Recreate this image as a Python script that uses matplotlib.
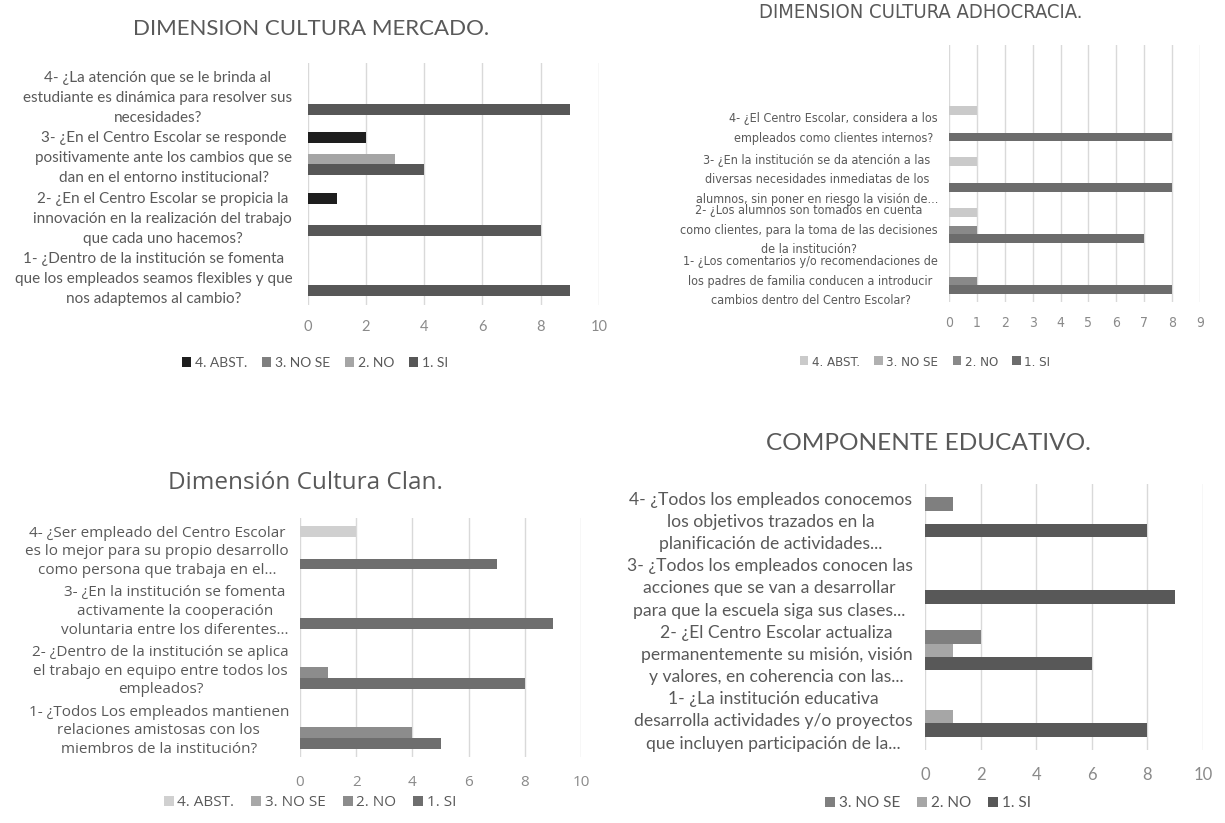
import numpy as np
import matplotlib
matplotlib.use("Agg")
import matplotlib.pyplot as plt
from matplotlib.patches import Patch
from matplotlib import font_manager as fm

# ---------------- DATA ----------------
legend_4 = ["4. ABST.", "3. NO SE", "2. NO", "1. SI"]
legend_3 = ["3. NO SE", "2. NO", "1. SI"]

mercado_title = "DIMENSION CULTURA MERCADO."
mercado_cats = [
    "1- ¿Dentro de la institución se fomenta\nque los empleados seamos flexibles y que\nnos adaptemos al cambio?",
    "2- ¿En el Centro Escolar se propicia la\ninnovación en la realización del trabajo\nque cada uno hacemos?",
    "3- ¿En el Centro Escolar se responde\npositivamente ante los cambios que se\ndan en el entorno institucional?",
    "4- ¿La atención que se le brinda al\nestudiante es dinámica para resolver sus\nnecesidades?",
]
mercado_si = [9, 8, 4, 9]
mercado_no = [0, 0, 3, 0]
mercado_nose = [0, 0, 0, 0]
mercado_abst = [0, 1, 2, 0]

adhoc_title = "DIMENSION CULTURA ADHOCRACIA."
adhoc_cats = [
    "1- ¿Los comentarios y/o recomendaciones de\nlos padres de familia conducen a introducir\ncambios dentro del Centro Escolar?",
    "2- ¿Los alumnos son tomados en cuenta\ncomo clientes, para la toma de las decisiones\nde la institución?",
    "3- ¿En la institución se da atención a las\ndiversas necesidades inmediatas de los\nalumnos, sin poner en riesgo la visión de...",
    "4- ¿El Centro Escolar, considera a los\nempleados como clientes internos?",
]
adhoc_si = [8, 7, 8, 8]
adhoc_no = [1, 1, 0, 0]
adhoc_nose = [0, 0, 0, 0]
adhoc_abst = [0, 1, 1, 1]

clan_title = "Dimensión Cultura Clan."
clan_cats = [
    "1- ¿Todos Los empleados mantienen\nrelaciones amistosas con los\nmiembros de la institución?",
    "2- ¿Dentro de la institución se aplica\nel trabajo en equipo entre todos los\nempleados?",
    "3- ¿En la institución se fomenta\nactivamente la cooperación\nvoluntaria entre los diferentes...",
    "4- ¿Ser empleado del Centro Escolar\nes lo mejor para su propio desarrollo\ncomo persona que trabaja en el...",
]
clan_si = [5, 8, 9, 7]
clan_no = [4, 1, 0, 0]
clan_nose = [0, 0, 0, 0]
clan_abst = [0, 0, 0, 2]

edu_title = "COMPONENTE EDUCATIVO."
edu_cats = [
    "1- ¿La institución educativa\ndesarrolla actividades y/o proyectos\nque incluyen participación de la...",
    "2- ¿El Centro Escolar actualiza\npermanentemente su misión, visión\ny valores, en coherencia con las...",
    "3- ¿Todos los empleados conocen las\nacciones que se van a desarrollar\npara que la escuela siga sus clases...",
    "4- ¿Todos los empleados conocemos\nlos objetivos trazados en la\nplanificación de actividades...",
]
edu_si = [8, 6, 9, 8]
edu_no = [1, 1, 0, 0]
edu_nose = [0, 2, 0, 1]

# ---------------- FONTS ----------------
def find_font(patterns, fallback_family):
    for pat in patterns:
        for f in fm.fontManager.ttflist:
            if pat.lower() in f.fname.lower().replace(" ", ""):
                return fm.FontProperties(fname=f.fname)
    return fm.FontProperties(family=fallback_family)

narrow_fp = find_font(["LiberationSansNarrow-Regular", "DejaVuSansCondensed.ttf",
                       "RobotoCondensed-Regular", "OpenSans_Condensed-Regular"],
                      "Liberation Sans")
narrow_file = narrow_fp.get_file()

W, H = 1225, 823
fig = plt.figure(figsize=(W / 100, H / 100), dpi=100)
fig.patch.set_facecolor("white")

TITLE_C = "#595959"
LABEL_C = "#595959"
TICK_C = "#8a8a8a"
GRID_C = "#d9d9d9"


def fp(family=None, size=10, fname=None):
    if fname:
        return fm.FontProperties(fname=fname, size=size)
    return fm.FontProperties(family=family, size=size)


def panel(left, top, right, bottom, xmax, xticks, cats, series, colors, names,
          slot, ylim_top, lab_font, lab_ls, lab_pad, tick_font, tick_pad,
          title, title_xy, title_font, leg_xy, leg_font):
    ax = fig.add_axes([left / W, 1 - bottom / H, (right - left) / W, (bottom - top) / H])
    y = np.arange(len(cats))
    n = len(series)
    for i, (vals, col) in enumerate(zip(series, colors)):
        off = (i - (n - 1) / 2) * slot
        ax.barh(y + off, vals, height=slot, color=col, zorder=3, linewidth=0)
    ax.set_xlim(0, xmax)
    ax.set_ylim(-0.5, ylim_top)
    ax.set_xticks(xticks)
    ax.set_xticklabels([str(t) for t in xticks])
    ax.set_yticks(y)
    ax.set_yticklabels(cats)
    for lbl in ax.get_yticklabels():
        lbl.set_fontproperties(lab_font)
        lbl.set_color(LABEL_C)
        lbl.set_multialignment("center")
        lbl.set_linespacing(lab_ls)
    for lbl in ax.get_xticklabels():
        lbl.set_fontproperties(tick_font)
        lbl.set_color(TICK_C)
    ax.tick_params(axis="both", length=0)
    ax.tick_params(axis="y", pad=lab_pad)
    ax.tick_params(axis="x", pad=tick_pad)
    for s in ax.spines.values():
        s.set_visible(False)
    ax.grid(axis="x", color=GRID_C, linewidth=1.0, zorder=0)
    ax.set_axisbelow(True)
    # title
    fig.text(title_xy[0] / W, 1 - title_xy[1] / H, title, ha="center", va="center",
             color=TITLE_C, fontproperties=title_font)
    # legend (reverse order of series, as in the source)
    handles = [Patch(facecolor=c, edgecolor="none") for c in colors][::-1]
    leg = ax.legend(handles, names, loc="center", ncol=len(names),
                    bbox_to_anchor=(leg_xy[0] / W, 1 - leg_xy[1] / H),
                    bbox_transform=fig.transFigure, frameon=False,
                    handlelength=0.65, handleheight=0.65, handletextpad=0.25,
                    columnspacing=1.1, prop=leg_font, borderpad=0)
    for t in leg.get_texts():
        t.set_color(LABEL_C)
    return ax


# Panel 1: Mercado
panel(307.5, 63, 599, 305, 10, [0, 2, 4, 6, 8, 10], mercado_cats,
      [mercado_si, mercado_no, mercado_nose, mercado_abst],
      ["#575757", "#a5a5a5", "#7f7f7f", "#1e1e1e"], legend_4,
      slot=0.177, ylim_top=3.5,
      lab_font=fp("Lato", 11), lab_ls=1.55, lab_pad=11,
      tick_font=fp("Lato", 10.5), tick_pad=11,
      title=mercado_title, title_xy=(311, 29), title_font=fp("Lato", 16),
      leg_xy=(315, 363), leg_font=fp("Lato", 10))

# Panel 2: Adhocracia
panel(949, 45, 1200, 302, 9, list(range(10)), adhoc_cats,
      [adhoc_si, adhoc_no, adhoc_nose, adhoc_abst],
      ["#6c6c6c", "#898989", "#b0b0b0", "#cacaca"], legend_4,
      slot=0.171, ylim_top=4.55,
      lab_font=fp(size=9, fname=narrow_file), lab_ls=1.65, lab_pad=8,
      tick_font=fp(size=10, fname=narrow_file), tick_pad=10,
      title=adhoc_title, title_xy=(921, 13), title_font=fp(size=14.5, fname=narrow_file),
      leg_xy=(925, 362), leg_font=fp(size=9.5, fname=narrow_file))

# Panel 3: Clan
panel(300, 518, 581, 757, 10, [0, 2, 4, 6, 8, 10], clan_cats,
      [clan_si, clan_no, clan_nose, clan_abst],
      ["#6e6e6e", "#8c8c8c", "#a8a8a8", "#d0d0d0"], legend_4,
      slot=0.179, ylim_top=3.5,
      lab_font=fp("Open Sans", 11), lab_ls=1.33, lab_pad=8,
      tick_font=fp("Open Sans", 11), tick_pad=13,
      title=clan_title, title_xy=(305, 483), title_font=fp("Open Sans", 17.5),
      leg_xy=(310, 803), leg_font=fp("Open Sans", 11))

# Panel 4: Componente educativo
panel(925, 484, 1203, 750, 10, [0, 2, 4, 6, 8, 10], edu_cats,
      [edu_si, edu_no, edu_nose],
      ["#585858", "#a6a6a6", "#7f7f7f"], legend_3,
      slot=0.203, ylim_top=3.5,
      lab_font=fp("Lato", 12.6), lab_ls=1.48, lab_pad=9,
      tick_font=fp("Lato", 12), tick_pad=12,
      title=edu_title, title_xy=(928, 443), title_font=fp("Lato", 17.6),
      leg_xy=(928, 803), leg_font=fp("Lato", 11))

fig.savefig("out.png", dpi=100, facecolor="white")
